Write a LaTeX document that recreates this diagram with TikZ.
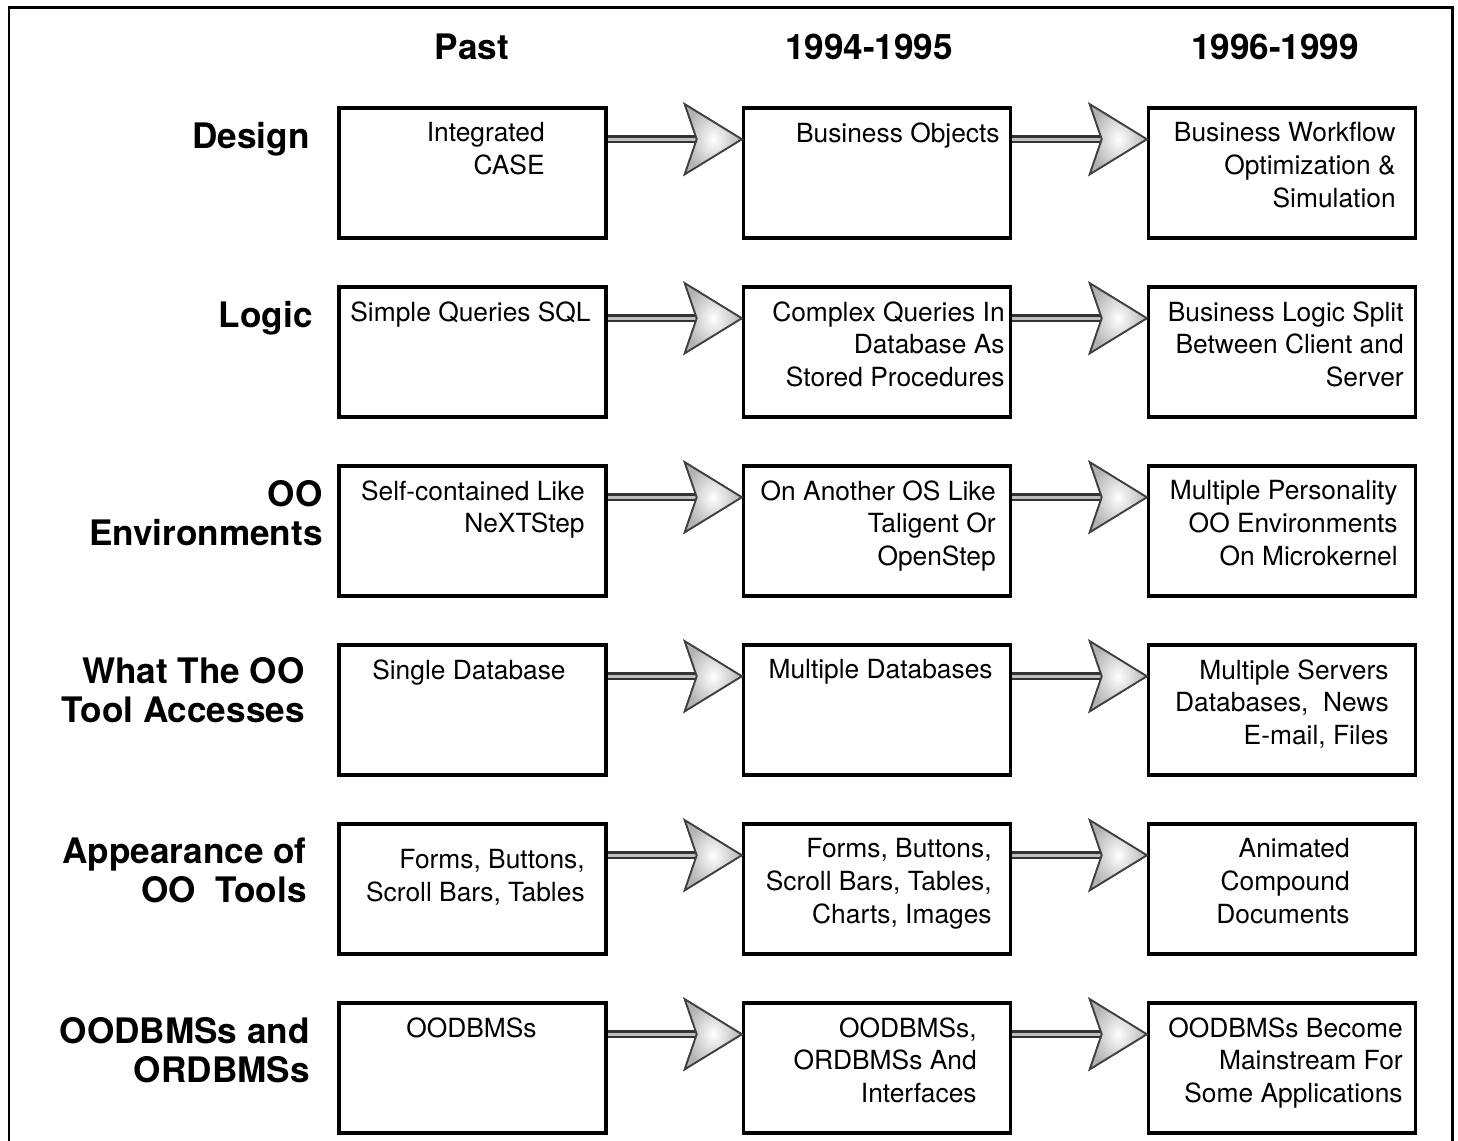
\documentclass[tikz,border=0pt]{standalone}
\usepackage{fontspec}
\setmainfont{TeX Gyre Heros}
\usetikzlibrary{calc}

\tikzset{
  stage/.style={draw, line width=2pt, minimum width=5.34cm, minimum height=2.6cm, inner sep=0},
  txt/.style={font=\fontsize{15}{18.7}\selectfont, align=right, inner sep=0, anchor=north east},
  rowlabel/.style={font=\bfseries\fontsize{20}{22}\selectfont, align=right, inner sep=0, anchor=north east},
  colhead/.style={font=\bfseries\fontsize{20}{22}\selectfont, inner sep=0, anchor=north},
  shaft/.style={draw=black!80, line width=1.5pt, double=gray!50, double distance=1.6pt},
  arrowhead/.style={draw=black!75, line width=1pt, inner color=white, outer color=gray!60}
}

% fat grey arrow from one stage box to the next
\newcommand{\stagearrow}[2]{
  \draw[shaft] ($(#1.north east)+(0,33)$) -- ($(#2.north west)+(-46,33)$);
  \shade[arrowhead] ($(#2.north west)+(0,33)$) -- ++(-57,-35) -- ++(12,35) -- ++(-12,35) -- cycle;
  \draw[arrowhead] ($(#2.north west)+(0,33)$) -- ++(-57,-35) -- ++(12,35) -- ++(-12,35) -- cycle;
}

\begin{document}
\begin{tikzpicture}[x=0.02cm, y=-0.02cm]
  \useasboundingbox (0,0) rectangle (1458,1141);
  \draw[line width=1.7pt] (9,1141) -- (9,8) -- (1452,8) -- (1452,1141);

  % column heads
  \node[colhead] (hpast) at (472,34) {Past};
  \node[colhead] (hmid) at (869,34) {1994-1995};
  \node[colhead] (hfut) at (1275,34) {1996-1999};

  % row labels
  \node[rowlabel] (l1) at (310,122) {Design};
  \node[rowlabel] (l2) at (313,301) {Logic};
  \node[rowlabel] (l3) at (323,480) {OO\\Environments};
  \node[rowlabel] (l4) at (305,657) {What The OO\\Tool Accesses};
  \node[rowlabel] (l5) at (307,838) {Appearance of\\OO\ \ Tools};
  \node[rowlabel] (l6) at (310,1017) {OODBMSs and\\ORDBMSs};

  % boxes
  \foreach \r/\y in {1/173, 2/352, 3/531, 4/710, 5/889, 6/1068} {
    \node[stage] (p\r) at (472.5,\y) {};
    \node[stage] (m\r) at (877,\y) {};
    \node[stage] (f\r) at (1282,\y) {};
  }

  % box texts
  \node[txt] (tp1) at (545,122) {Integrated\\CASE};
  \node[txt] (tm1) at (1000,122) {Business Objects};
  \node[txt] (tf1) at (1396,122) {Business Workflow\\Optimization \&\\Simulation};

  \node[txt] (tp2) at (591,301) {Simple Queries SQL};
  \node[txt] (tm2) at (1005,301) {Complex Queries In\\Database As\\Stored Procedures};
  \node[txt] (tf2) at (1404,301) {Business Logic Split\\Between Client and\\Server};

  \node[txt] (tp3) at (585,480) {Self-contained Like\\NeXTStep};
  \node[txt] (tm3) at (996,480) {On Another OS Like\\Taligent Or\\OpenStep};
  \node[txt] (tf3) at (1398,480) {Multiple Personality\\OO Environments\\On Microkernel};

  \node[txt] (tp4) at (566,659) {Single Database};
  \node[txt] (tm4) at (993,659) {Multiple Databases};
  \node[txt] (tf4) at (1389,659) {Multiple Servers\\Databases,\ \ News\\E-mail, Files};

  \node[txt] (tp5) at (585,849) {Forms, Buttons,\\Scroll Bars, Tables};
  \node[txt] (tm5) at (992,838) {Forms, Buttons,\\Scroll Bars, Tables,\\Charts, Images};
  \node[txt] (tf5) at (1350,838) {Animated\\Compound\\Documents};

  \node[txt] (tp6) at (537,1017) {OODBMSs};
  \node[txt] (tm6) at (977,1017) {OODBMSs,\\ORDBMSs And\\Interfaces};
  \node[txt] (tf6) at (1403,1017) {OODBMSs Become\\Mainstream For\\Some Applications};

  % arrows
  \foreach \r in {1,...,6} {
    \stagearrow{p\r}{m\r}
    \stagearrow{m\r}{f\r}
  }
\end{tikzpicture}
\end{document}
